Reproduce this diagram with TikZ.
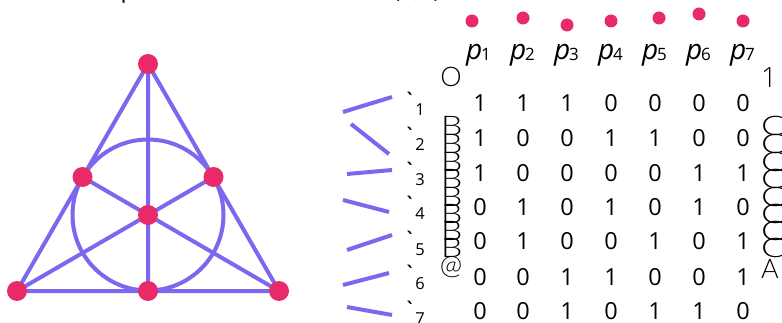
\documentclass[tikz,border=0pt]{standalone}
\usepackage{fontspec}
\setmainfont{Open Sans}
\newfontfamily\thinf{Lato Light}
\newfontfamily\lightf{Open Sans Light}
\newfontfamily\gravef{Lato}
\definecolor{lin}{HTML}{7B68EE}
\definecolor{pt}{HTML}{E92A68}
\tikzset{
  pnt/.style={circle,fill=pt,draw=none,minimum size=#1,inner sep=0pt},
  pnt/.default=20pt,
  ln/.style={draw=lin,line width=4pt},
  entry/.style={anchor=base,inner sep=0pt,font=\fontsize{23.5}{23.5}\selectfont,text=black},
  fence/.style={anchor=base,inner sep=0pt,font=\thinf\fontsize{27}{27}\selectfont,text=black},
  coln/.style={anchor=base,inner sep=0pt,text=black},
  lab/.style={anchor=base,inner sep=0pt,font=\fontsize{16.5}{16.5}\selectfont,text=black},
  grv/.style={anchor=base,inner sep=0pt,font=\gravef\fontsize{24}{24}\selectfont,text=black},
}
\newcommand{\pname}[1]{{\fontsize{28}{28}\selectfont\itshape p}\hspace{-1pt}\raisebox{-1pt}{\fontsize{17}{17}\selectfont #1}}
\begin{document}
\begin{tikzpicture}[x=1pt,y=-1pt]
\useasboundingbox (0,0) rectangle (782,323);
\clip (0,0) rectangle (782,323);
\fill[white] (0,0) rectangle (782,323);
% clipped title
\node[anchor=base,inner sep=0pt,font=\fontsize{24}{24}\selectfont] (tp) at (128,-2) {p};
\node[anchor=base,inner sep=0pt,font=\fontsize{24}{24}\selectfont] (tq) at (417,-2) {(7,3)};
% Fano plane
\coordinate (A) at (148,64);
\coordinate (B) at (82.5,177);
\coordinate (C) at (213.5,177);
\coordinate (O) at (148,215);
\coordinate (D) at (17,291);
\coordinate (E) at (148,291);
\coordinate (F) at (279,291);
\draw[ln] (O) circle (75.5);
\draw[ln] (A)--(D) (A)--(F) (D)--(F) (A)--(E) (B)--(F) (C)--(D);
\foreach \n in {A,B,C,O,D,E,F} \node[pnt] (n\n) at (\n) {};
% top points
\foreach \i/\x/\y in {1/472/21,2/523/18,3/567/25,4/611/21,5/659/18,6/699/14,7/743/21}
  \node[pnt=13pt] (t\i) at (\x,\y) {};
% column names
\foreach \i/\x in {1/478.5,2/522.5,3/566.5,4/610.5,5/654.5,6/698.5,7/742.5}
  \node[coln] (c\i) at (\x,60) {\pname{\i}};
% line segments
\foreach \i/\xa/\ya/\xb/\yb in {1/343/112/392/97,2/351/124/389/154,3/347/174/392/170,4/343/200/389/212,5/347/250/392/235,6/343/285/389/273,7/347/307/392/315}{
  \coordinate (la\i) at (\xa,\ya);
  \coordinate (lb\i) at (\xb,\yb);
  \draw[ln] (la\i)--(lb\i);
}
% labels
\foreach \i/\y in {1/103,2/138,3/173,4/207,5/242,6/276,7/311}{
  \node[grv] (g\i) at (410.5,\y+7) {`};
  \node[lab] (s\i) at (420,\y+13) {\i};
}
% left fence
\node[fence] (lo) at (451,87) {O};
\foreach \i/\y in {1/136,2/153.5,3/171.5,4/189,5/206.5,6/223.5,7/241,8/258}
  \node[fence,anchor=base west] (lb-\i) at (441,\y) {\scalebox{1.25}[1]{B}};
\node[fence] (lat) at (451,274) {@};
% right fence
\node[fence,font=\lightf\fontsize{28}{28}\selectfont] (r1) at (769,88) {1};
\foreach \i/\y in {1/136,2/153.5,3/171.5,4/189,5/206.5,6/223.5,7/241,8/258}
  \node[fence,anchor=base west] (rc\i) at (761,\y) {\scalebox{1.35}[1]{C}};
\node[fence] (ra) at (770,278) {A};
% matrix
\foreach \r/\y/\row in {1/112/{1,1,1,0,0,0,0},2/147/{1,0,0,1,1,0,0},3/182/{1,0,0,0,0,1,1},4/216/{0,1,0,1,0,1,0},5/250/{0,1,0,0,1,0,1},6/285/{0,0,1,1,0,0,1},7/319/{0,0,1,0,1,1,0}}{
  \foreach \v [count=\c] in \row {
    \pgfmathsetmacro{\xx}{{0,480,523,567,611,655,699,743}[\c]}
    \node[entry] (m\r-\c) at (\xx,\y) {\v};
  }
}
\end{tikzpicture}
\end{document}
